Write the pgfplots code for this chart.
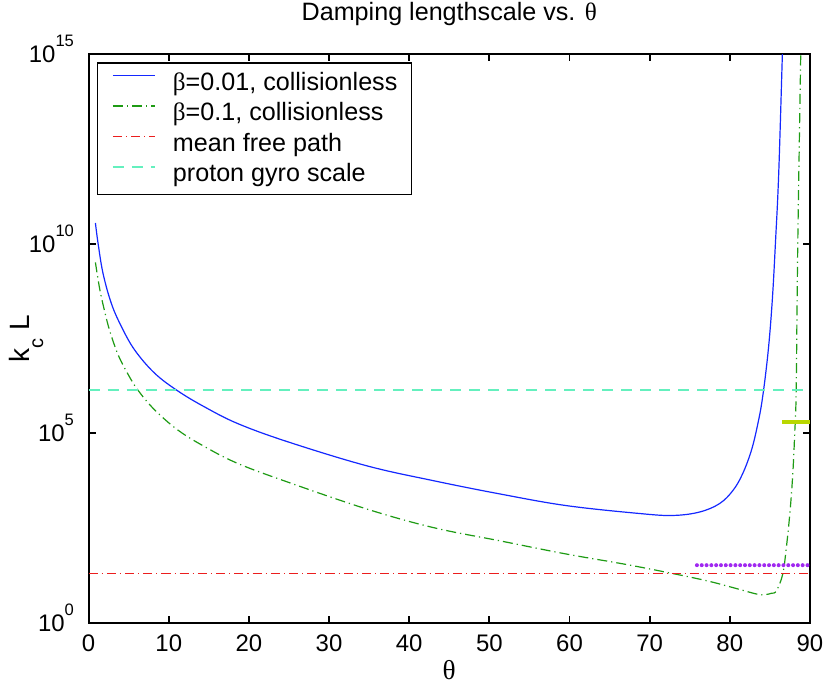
\documentclass[border=0pt]{standalone}
\usepackage{pgfplots}
\pgfplotsset{compat=1.18}
\usepackage{fontspec}
\setmainfont{Liberation Sans}
\newfontfamily\symf{Liberation Serif}
\definecolor{cblue}{RGB}{20,40,255}
\definecolor{cgreen}{RGB}{30,155,20}
\definecolor{cred}{RGB}{235,30,30}
\definecolor{caqua}{RGB}{100,240,190}
\definecolor{cyel}{RGB}{185,215,0}
\definecolor{cpurp}{RGB}{160,40,240}
\newcommand\tpow[1]{10\raisebox{8bp}{\fontsize{8.3}{8.3}\selectfont #1}}
\begin{document}
\begin{tikzpicture}
\path[use as bounding box] (-44.25bp,-33bp) rectangle (370.25bp,311bp);
\begin{axis}[
  scale only axis, width=360.25bp, height=284bp,
  xmin=0, xmax=90, ymode=log, ymin=1, ymax=1e15,
  xtick={0,10,20,30,40,50,60,70,80,90},
  xticklabels={0,10,20,30,40,50,60,70,80,90},
  ytick={1,1e5,1e10,1e15},
  yticklabels={\tpow{0},\tpow{5},\tpow{10},\tpow{15}},
  yminorticks=false,
  tick align=inside, tick pos=both,
  major tick length=3.5bp,
  major tick style={line width=0.9bp, black},
  axis line style={line width=1bp, black},
  xticklabel style={font=\fontsize{12}{14}\selectfont, yshift=-2.3bp},
  yticklabel style={font=\fontsize{12}{14}\selectfont, xshift=-3.8bp, yshift=2.4bp},
  title={Damping lengthscale vs. {\symf θ}},
  title style={at={(axis description cs:0.5,1.0387)}, anchor=base, font=\fontsize{12.6}{15}\selectfont},
  xlabel={{\symf θ}},
  every axis x label/.style={at={(axis description cs:0.5,-0.0998)}, anchor=base, font=\fontsize{13.7}{16}\selectfont},
  ylabel={k\raisebox{-7bp}{\fontsize{10}{10}\selectfont c} L},
  every axis y label/.style={at={(axis description cs:-0.0826,0.5)}, rotate=90, anchor=base, font=\fontsize{14}{16}\selectfont},
  legend cell align=left,
  legend image code/.code={\draw[#1] (0bp,3.6bp) -- (21bp,3.6bp);},
  legend style={at={(axis description cs:0,1)}, anchor=north west, xshift=4.1bp, yshift=-4bp,
    draw=black, line width=0.75bp, fill=white, inner xsep=7.15bp, inner ysep=3.2bp,
    font=\fontsize{12.6}{15}\selectfont, row sep=1.75bp, column sep=8.5bp,
    nodes={inner sep=0pt, text height=10.5bp, text depth=3bp}},
]
\addplot[cblue, line width=0.6bp, smooth, tension=0.6] coordinates {
(0.85,3.5e10) (1.18,1.02e10) (1.81,1.6e9) (2.85,2.6e8) (4.09,6.5e7) (5.76,1.55e7)
(8.25,3.8e6) (11.16,1.29e6) (14.49,4.9e5) (18.64,1.78e5) (24.88,5.9e4) (34.7,1.38e4)
(43.0,5.6e3) (51.3,2.5e3) (59.6,1.23e3) (68.77,760) (72.9,676) (76.2,830) (78.7,1.38e3)
(80.4,3.1e3) (81.6,8.5e3) (82.7,3.55e4) (83.5,1.78e5) (84.1,9.1e5) (84.8,1.55e7)
(85.3,3.2e8) (85.69,1e10) (86.1,6.9e11) (86.56,1e15) (86.7,1e16)};
\addlegendentry{{\symf β}=0.01, collisionless}
\addplot[cgreen, line width=0.6bp, smooth, tension=0.6, dash pattern=on 5bp off 2bp on 0.6bp off 2bp] coordinates {
(0.85,3.2e9) (1.39,6.3e8) (2.02,1.58e8) (2.64,5.0e7) (3.68,1.17e7) (4.93,3.55e6)
(6.17,1.35e6) (8.25,4.1e5) (11.16,1.2e5) (14.49,4.4e4) (18.64,1.58e4) (24.88,5.1e3)
(34.7,1.0e3) (43.0,324) (51.3,145) (59.6,65) (67.9,32) (76.25,14.1) (80,8.9)
(83.3,5.75) (84.35,5.5) (85.2,6.0) (85.8,6.9) (86.6,19) (87.06,98) (87.5,800)
(87.85,7.9e3) (88.1,1e5) (88.28,1.35e6) (88.48,1e10) (88.85,1e15) (88.92,1e16)};
\addlegendentry{{\symf β}=0.1, collisionless}
\addplot[cred, line width=0.6bp, dash pattern=on 4.5bp off 2bp on 0.6bp off 2bp] coordinates {(0,19.5) (90,19.5)};
\addlegendentry{mean free path}
\addplot[caqua, line width=1bp, dash pattern=on 5.5bp off 4bp] coordinates {(0,1.41e6) (90,1.41e6)};
\addlegendentry{proton gyro scale}
\addplot[cpurp, line width=2bp, line cap=round, dash pattern=on 0pt off 2.4bp, forget plot] coordinates {(75.9,33) (90,33)};
\addplot[cyel, line width=1.75bp, forget plot] coordinates {(86.5,1.95e5) (90,1.95e5)};
\end{axis}
\end{tikzpicture}
\end{document}
